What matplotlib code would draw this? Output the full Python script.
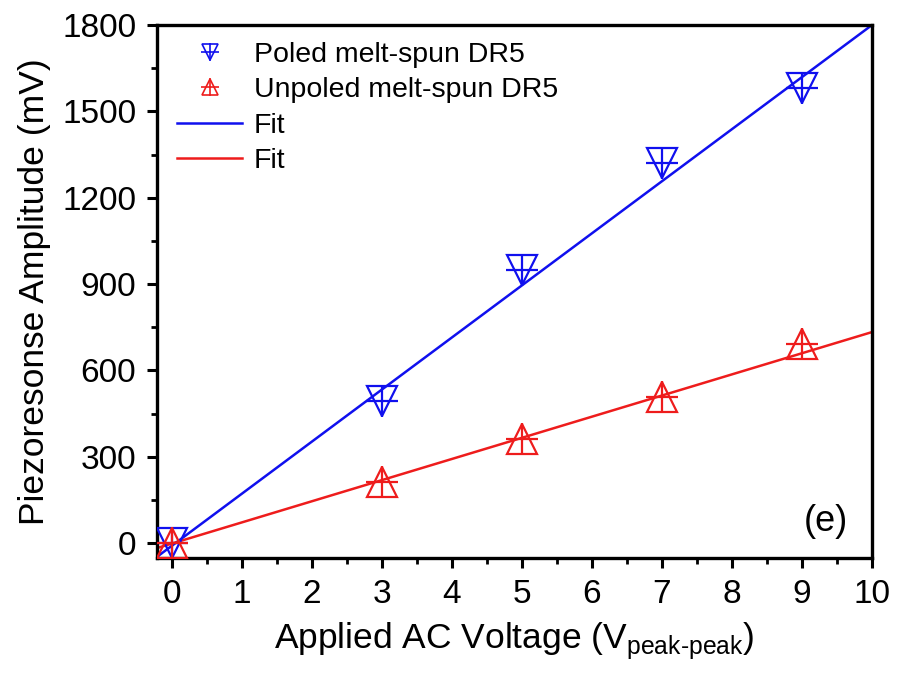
import matplotlib
matplotlib.use("Agg")
import matplotlib.pyplot as plt
import numpy as np

plt.rcParams['font.family'] = ['Liberation Sans', 'DejaVu Sans']
plt.rcParams['mathtext.fontset'] = 'custom'
plt.rcParams['mathtext.rm'] = 'Liberation Sans'

voltage = [0, 3, 5, 7, 9]
poled = [0, 495, 950, 1322, 1582]
unpoled = [0, 212, 360, 507, 692]
poled_fit = (181.0, -10.0)     # slope, intercept
unpoled_fit = (73.5, -2.0)
fit_x = [-0.2, 10]

xticks = list(range(0, 11))
yticks = [0, 300, 600, 900, 1200, 1500, 1800]

fig = plt.figure(figsize=(8.97, 6.78), dpi=100)
ax = fig.add_axes([0.175, 0.177, 0.797, 0.786])

blue = '#1010ee'
red = '#ee1c1c'

fx = np.array(fit_x)
lb, = ax.plot(fx, poled_fit[0] * fx + poled_fit[1], color=blue, lw=1.8, zorder=2)
lr, = ax.plot(fx, unpoled_fit[0] * fx + unpoled_fit[1], color=red, lw=1.8, zorder=2)

ax.plot(voltage, poled, ls='none', marker='v', ms=21, mfc='none', mec=blue, mew=1.6, zorder=3)
ax.plot(voltage, poled, ls='none', marker='+', ms=23, mec=blue, mew=1.6, zorder=3)
ax.plot(voltage, unpoled, ls='none', marker='^', ms=21, mfc='none', mec=red, mew=1.6, zorder=3)
ax.plot(voltage, unpoled, ls='none', marker='+', ms=23, mec=red, mew=1.6, zorder=3)

# legend proxies
lgb1, = ax.plot([], [], ls='none', marker='v', ms=12, mfc='none', mec=blue, mew=1.2)
lgb2, = ax.plot([], [], ls='none', marker='+', ms=13, mec=blue, mew=1.2)
lgr1, = ax.plot([], [], ls='none', marker='^', ms=12, mfc='none', mec=red, mew=1.2)
lgr2, = ax.plot([], [], ls='none', marker='+', ms=13, mec=red, mew=1.2)

leg = ax.legend([(lgb1, lgb2), (lgr1, lgr2), lb, lr],
                ['Poled melt-spun DR5', 'Unpoled melt-spun DR5', 'Fit', 'Fit'],
                loc='upper left', bbox_to_anchor=(0.0, 1.006), frameon=False,
                fontsize=20.5, handlelength=2.3, handletextpad=0.4,
                labelspacing=0.33, borderaxespad=0.3)

ax.set_xlim(-0.21, 10)
ax.set_ylim(-52, 1800)
ax.set_xticks(xticks)
ax.set_yticks(yticks)
ax.set_xticks(np.arange(0.5, 10, 1), minor=True)
ax.set_yticks(np.arange(150, 1800, 300), minor=True)

for s in ax.spines.values():
    s.set_linewidth(2.4)
ax.tick_params(which='major', direction='out', length=7, width=2.2, labelsize=24, pad=8)
ax.tick_params(which='minor', direction='out', length=4.5, width=2.0)

ax.set_xlabel(r'Applied AC Voltage (V$_\mathregular{peak\text{-}peak}$)', fontsize=25.5, labelpad=8)
ax.set_ylabel('Piezoresonse Amplitude (mV)', fontsize=25.5, labelpad=8)

ax.text(0.967, 0.035, '(e)', transform=ax.transAxes, ha='right', va='bottom', fontsize=26)

fig.savefig('out.png', dpi=100)
